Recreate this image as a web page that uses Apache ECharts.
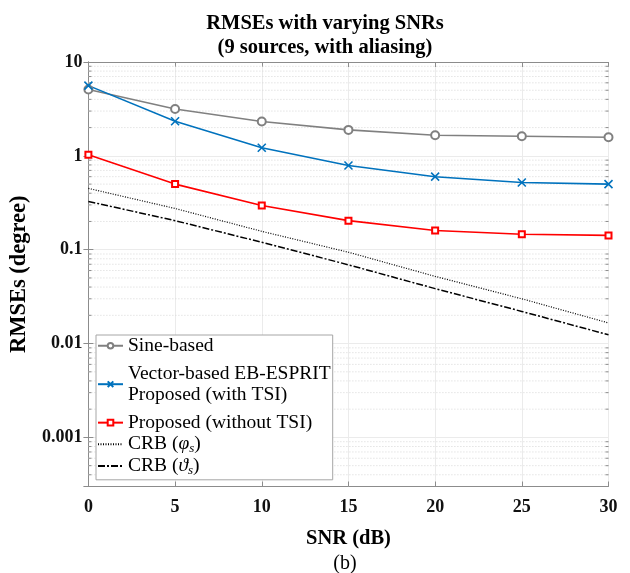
<!DOCTYPE html>
<html>
<head>
<meta charset="utf-8">
<script src="https://cdn.jsdelivr.net/npm/echarts@6/dist/echarts.min.js"></script>
<style>
  html, body { margin: 0; padding: 0; background: #ffffff; }
  #chart { width: 630px; height: 573px; }
</style>
</head>
<body>
<div id="chart"></div>
<script>
// SNR sweep (dB)
const snr = [0, 5, 10, 15, 20, 25, 30];

// RMSE of each estimator (degree)
const sineBased     = [5.1, 3.16, 2.32, 1.89, 1.66, 1.62, 1.58];
const vectorBased   = [5.6, 2.34, 1.22, 0.79, 0.60, 0.52, 0.50];
const proposedNoTsi = [1.03, 0.50, 0.296, 0.204, 0.160, 0.146, 0.142];

// Cramer-Rao bounds
const crbPhi   = [0.45, 0.275, 0.157, 0.094, 0.052, 0.030, 0.0166];
const crbTheta = [0.327, 0.204, 0.12, 0.069, 0.0385, 0.022, 0.0124];

// axis ticks
const xTicks = [0, 5, 10, 15, 20, 25, 30];
const yTickLabels = { '-3': '0.001', '-2': '0.01', '-1': '0.1', '0': '1', '1': '10' };
const yMin = 0.0003;
const yMax = 10;

// minor grid positions: 2..9 within each decade
const minorValues = [];
for (let e = -4; e <= 0; e++) {
  for (let m = 2; m <= 9; m++) {
    const v = m * Math.pow(10, e);
    if (v > yMin * 1.0001 && v < yMax) minorValues.push(v);
  }
}

const SERIF = "'Liberation Serif', 'Times New Roman', serif";
const AXIS_COLOR = '#8c8c8c';
const GRID_COLOR = '#ebebeb';
const MINOR_COLOR = '#d6d6d6';

const NAME_SINE = 'Sine-based';
const NAME_VEC = 'Vector-based EB-ESPRIT Proposed (with TSI)';
const NAME_NOTSI = 'Proposed (without TSI)';
const NAME_CRB_PHI = 'CRB (φs)';
const NAME_CRB_THETA = 'CRB (ϑs)';

const legendText = {};
legendText[NAME_SINE] = 'Sine-based';
legendText[NAME_VEC] = 'Vector-based EB-ESPRIT\nProposed (with TSI)';
legendText[NAME_NOTSI] = 'Proposed (without TSI)';
legendText[NAME_CRB_PHI] = 'CRB ({g|φ}{s|s})';
legendText[NAME_CRB_THETA] = 'CRB ({g|ϑ}{s|s})';

const pairs = arr => snr.map((s, i) => [s, arr[i]]);

const yLabelFormatter = v => {
  const e = Math.log10(v);
  const r = Math.round(e);
  return Math.abs(e - r) < 1e-6 ? (yTickLabels[String(r)] || '') : '';
};

const chart = echarts.init(document.getElementById('chart'), null, { renderer: 'canvas' });

chart.setOption({
  animation: false,
  backgroundColor: '#ffffff',
  title: [
    {
      text: 'RMSEs with varying SNRs\n(9 sources, with aliasing)',
      left: 320,
      top: 6,
      textAlign: 'center',
      textStyle: { fontFamily: SERIF, fontWeight: 'bold', fontSize: 20.5, lineHeight: 24.5, color: '#000' }
    },
    {
      text: '(b)',
      left: 340,
      top: 547,
      textAlign: 'center',
      textStyle: { fontFamily: SERIF, fontWeight: 'normal', fontSize: 20, lineHeight: 24, color: '#000' }
    }
  ],
  grid: { left: 88, right: 21.5, top: 62, bottom: 86.5, containLabel: false },
  xAxis: [
    {
      type: 'value', min: 0, max: 30, interval: 5, position: 'bottom',
      name: 'SNR (dB)', nameLocation: 'middle', nameGap: 42,
      nameTextStyle: { fontFamily: SERIF, fontWeight: 'bold', fontSize: 20.5, color: '#000' },
      axisLine: { show: true, lineStyle: { color: AXIS_COLOR, width: 1 } },
      axisTick: { show: true, inside: true, length: 5, lineStyle: { color: AXIS_COLOR } },
      axisLabel: {
        margin: 12, fontFamily: SERIF, fontWeight: 'bold', fontSize: 18, color: '#111',
        formatter: v => (xTicks.includes(v) ? String(v) : '')
      },
      splitLine: { show: true, lineStyle: { color: GRID_COLOR, width: 1 } }
    },
    {
      type: 'value', min: 0, max: 30, interval: 5, position: 'top',
      axisLine: { show: true, lineStyle: { color: AXIS_COLOR, width: 1 } },
      axisTick: { show: true, inside: true, length: 5, lineStyle: { color: AXIS_COLOR } },
      axisLabel: { show: false },
      splitLine: { show: false }
    }
  ],
  yAxis: [
    {
      type: 'log', logBase: 10, min: yMin, max: yMax, position: 'left',
      name: 'RMSEs (degree)', nameLocation: 'middle', nameGap: 48, nameRotate: 90,
      nameTextStyle: { fontFamily: SERIF, fontWeight: 'bold', fontSize: 22.5, color: '#000' },
      axisLine: { show: true, lineStyle: { color: AXIS_COLOR, width: 1 } },
      axisTick: { show: true, inside: true, length: 5, lineStyle: { color: AXIS_COLOR } },
      axisLabel: {
        margin: 6, fontFamily: SERIF, fontWeight: 'bold', fontSize: 18, color: '#111',
        showMinLabel: false, formatter: yLabelFormatter
      },
      splitLine: { show: true, lineStyle: { color: GRID_COLOR, width: 1 } }
    },
    {
      type: 'log', logBase: 10, min: yMin, max: yMax, position: 'right',
      axisLine: { show: true, lineStyle: { color: AXIS_COLOR, width: 1 } },
      axisTick: { show: true, inside: true, length: 5, lineStyle: { color: AXIS_COLOR } },
      axisLabel: { show: false },
      splitLine: { show: false }
    }
  ],
  legend: {
    orient: 'vertical',
    left: 96,
    top: 335,
    itemWidth: 25,
    itemHeight: 7,
    itemGap: 0.2,
    padding: [0, 2, 3, 1],
    backgroundColor: '#ffffff',
    borderColor: '#a6a6a6',
    borderWidth: 1,
    borderRadius: 0,
    selectedMode: false,
    textStyle: {
      fontFamily: SERIF, fontSize: 19.5, lineHeight: 21.5, color: '#000',
      rich: {
        g: { fontFamily: SERIF, fontSize: 19.5, fontStyle: 'italic', lineHeight: 21.5, color: '#000' },
        s: { fontFamily: SERIF, fontSize: 13, fontStyle: 'italic', lineHeight: 9, verticalAlign: 'bottom', color: '#000' }
      }
    },
    formatter: name => legendText[name] || name,
    data: [
      { name: NAME_SINE },
      { name: NAME_VEC, textStyle: { padding: [6, 0, 6, 0] } },
      { name: NAME_NOTSI },
      { name: NAME_CRB_PHI, itemStyle: { opacity: 0 } },
      { name: NAME_CRB_THETA, itemStyle: { opacity: 0 } }
    ]
  },
  series: [
    {
      // dotted minor grid lines and minor ticks on the log axis
      name: 'minor-grid',
      type: 'custom',
      silent: true,
      z: 1,
      xAxisIndex: 0,
      yAxisIndex: 0,
      data: minorValues.map(v => [0, v]),
      encode: { x: 0, y: 1 },
      renderItem: (params, api) => {
        const y = api.coord([0, api.value(1)])[1];
        const cs = params.coordSys;
        const x0 = cs.x, x1 = cs.x + cs.width;
        return {
          type: 'group',
          children: [
            { type: 'line', shape: { x1: x0, y1: y, x2: x1, y2: y },
              style: { stroke: MINOR_COLOR, lineWidth: 1, lineDash: [1, 2] } },
            { type: 'line', shape: { x1: x0, y1: y, x2: x0 + 3, y2: y },
              style: { stroke: AXIS_COLOR, lineWidth: 1 } },
            { type: 'line', shape: { x1: x1 - 3, y1: y, x2: x1, y2: y },
              style: { stroke: AXIS_COLOR, lineWidth: 1 } }
          ]
        };
      }
    },
    {
      name: NAME_SINE, type: 'line', z: 5,
      data: pairs(sineBased),
      symbol: 'emptyCircle', symbolSize: 8,
      lineStyle: { color: '#808080', width: 1.6 },
      itemStyle: { color: '#808080', borderColor: '#808080', borderWidth: 1.3 },
      emphasis: { disabled: true }
    },
    {
      name: NAME_VEC, type: 'line', z: 5,
      data: pairs(vectorBased),
      symbol: 'path://M0,0L10,10M10,0L0,10', symbolSize: 8,
      lineStyle: { color: '#0072BD', width: 1.6 },
      itemStyle: { color: '#0072BD', borderColor: '#0072BD', borderWidth: 1.6 },
      emphasis: { disabled: true }
    },
    {
      name: NAME_NOTSI, type: 'line', z: 5,
      data: pairs(proposedNoTsi),
      symbol: 'emptyRect', symbolSize: 6,
      lineStyle: { color: '#ff0000', width: 1.6 },
      itemStyle: { color: '#ff0000', borderColor: '#ff0000', borderWidth: 1.3 },
      emphasis: { disabled: true }
    },
    {
      name: NAME_CRB_PHI, type: 'line', z: 4,
      data: pairs(crbPhi),
      symbol: 'none',
      lineStyle: { color: '#000000', width: 1.2, type: [1, 1.5] },
      itemStyle: { color: '#000000' },
      emphasis: { disabled: true }
    },
    {
      name: NAME_CRB_THETA, type: 'line', z: 4,
      data: pairs(crbTheta),
      symbol: 'none',
      lineStyle: { color: '#000000', width: 1.5, type: [7, 2, 2, 2] },
      itemStyle: { color: '#000000' },
      emphasis: { disabled: true }
    }
  ]
});
</script>
</body>
</html>
